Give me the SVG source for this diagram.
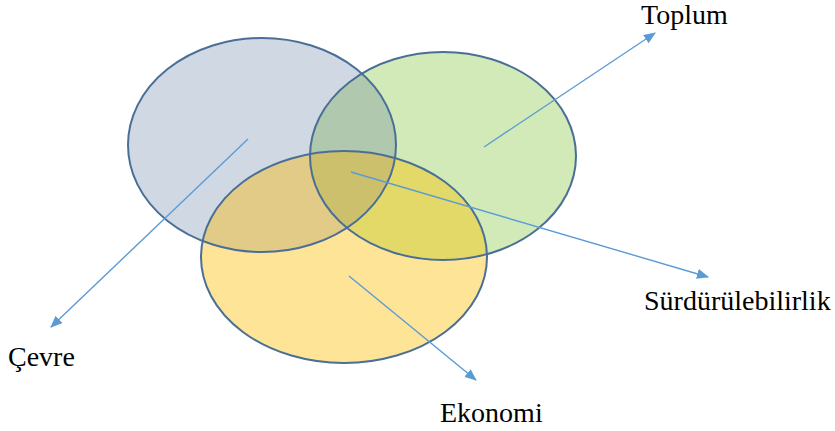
<svg xmlns="http://www.w3.org/2000/svg" width="835" height="431" viewBox="0 0 835 431">
<style>
.lbl{font-family:'Liberation Serif','Times New Roman',serif;font-size:28px;fill:#000}
.edge{stroke:#4a6f96;stroke-width:2;fill:none}
.conn{stroke:#5b9bd5;stroke-width:1.4;fill:none}
</style>
<defs>
<ellipse id="eB" cx="262" cy="145" rx="134" ry="107"/>
<ellipse id="eG" cx="443" cy="156" rx="133" ry="104"/>
<ellipse id="eY" cx="344" cy="257" rx="143" ry="106"/>
<clipPath id="cB"><use href="#eB"/></clipPath>
<clipPath id="cG"><use href="#eG"/></clipPath>
<marker id="ah" viewBox="0 0 12 10" refX="11" refY="5" markerWidth="12" markerHeight="10" markerUnits="userSpaceOnUse" orient="auto">
<path d="M0,0 L12,5 L0,10 Z" fill="#5b9bd5"/>
</marker>
</defs>
<rect width="835" height="431" fill="#fff"/>
<g id="cevre"><use href="#eB" fill="#d0d8e4"/></g>
<g id="toplum"><use href="#eG" fill="#d2eab8"/></g>
<g id="ekonomi"><use href="#eY" fill="#fde497"/></g>
<g id="overlaps">
<g clip-path="url(#cB)"><use href="#eG" fill="#b0c8ae"/></g>
<g clip-path="url(#cB)"><use href="#eY" fill="#e2cb86"/></g>
<g clip-path="url(#cG)"><use href="#eY" fill="#e2d968"/></g>
<g clip-path="url(#cB)"><g clip-path="url(#cG)"><use href="#eY" fill="#cdc06c"/></g></g>
</g>
<g id="outlines">
<use href="#eB" class="edge"/>
<use href="#eG" class="edge"/>
<use href="#eY" class="edge"/>
</g>
<g id="connectors">
<line class="conn" x1="248" y1="139" x2="51" y2="327" marker-end="url(#ah)"/>
<line class="conn" x1="484" y1="147" x2="655" y2="33" marker-end="url(#ah)"/>
<line class="conn" x1="351" y1="172" x2="708" y2="277" marker-end="url(#ah)"/>
<line class="conn" x1="349" y1="276" x2="476" y2="380" marker-end="url(#ah)"/>
</g>
<g id="labels">
<text class="lbl" x="641" y="24">Toplum</text>
<text class="lbl" x="8" y="366">Çevre</text>
<text class="lbl" x="644" y="310">Sürdürülebilirlik</text>
<text class="lbl" x="440" y="422">Ekonomi</text>
</g>
</svg>
